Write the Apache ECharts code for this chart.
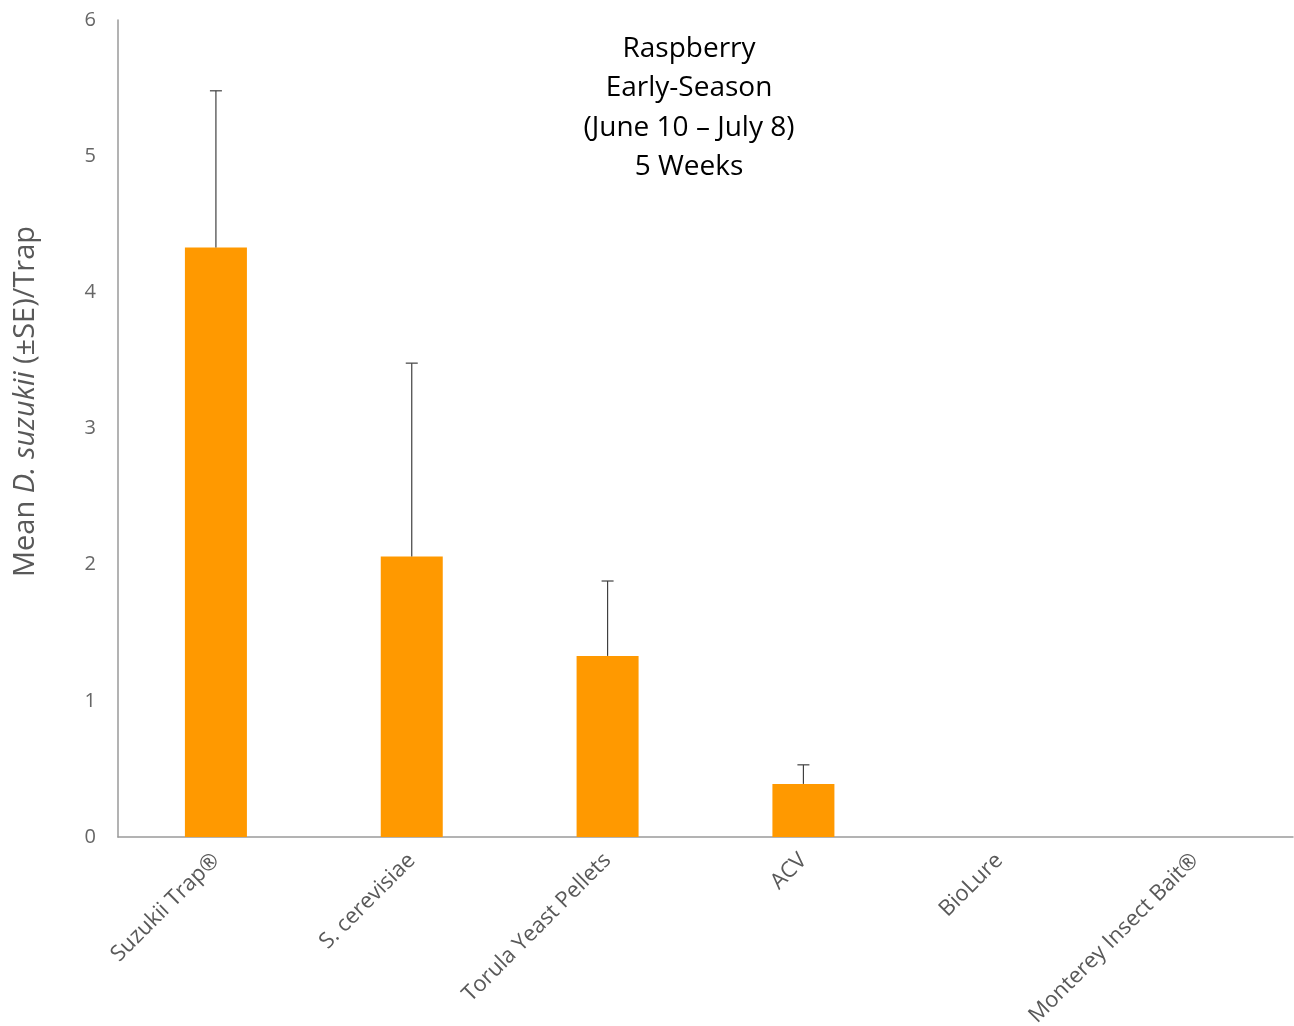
<!DOCTYPE html>
<html>
<head>
<meta charset="utf-8">
<style>
  html, body { margin: 0; padding: 0; background: #fff; }
  #chart { width: 1294px; height: 1026px; }
</style>
<script src="https://cdn.jsdelivr.net/npm/echarts@6/dist/echarts.min.js"></script>
</head>
<body>
<div id="chart"></div>
<script>
// Trap attractants compared in raspberry, early season
const categories = ['Suzukii Trap®', 'S. cerevisiae', 'Torula Yeast Pellets', 'ACV', 'BioLure', 'Monterey Insect Bait®'];
// Mean D. suzukii per trap
const means = [4.33, 2.06, 1.33, 0.39, 0, 0];
// Standard error (drawn upward only)
const stdErrors = [1.15, 1.42, 0.55, 0.14, 0, 0];
const yTicks = { min: 0, max: 6, interval: 1 };
const titleLines = ['Raspberry', 'Early-Season', '(June 10 \u2013 July 8)', '5 Weeks'];

const errorData = categories.map((c, i) => [i, means[i], means[i] + stdErrors[i]]);

const chart = echarts.init(document.getElementById('chart'));
chart.setOption({
  animation: false,
  backgroundColor: '#ffffff',
  textStyle: { fontFamily: '"Open Sans", "Noto Sans", sans-serif' },
  title: {
    text: titleLines.join('\n'),
    left: 684,
    top: 24,
    textAlign: 'center',
    textStyle: {
      fontFamily: '"Open Sans", "Noto Sans", sans-serif',
      fontWeight: 'normal',
      fontSize: 28,
      lineHeight: 39.5,
      color: '#000000'
    }
  },
  grid: { left: 118, right: 1, top: 20, bottom: 189, containLabel: false, outerBoundsMode: 'none' },
  xAxis: {
    type: 'category',
    data: categories,
    axisLine: { show: true, lineStyle: { color: '#9a9a9a', width: 1.5 } },
    axisTick: { show: false },
    axisLabel: {
      rotate: 45,
      margin: 20,
      fontSize: 22,
      color: '#595959',
      interval: 0
    }
  },
  yAxis: {
    type: 'value',
    min: yTicks.min,
    max: yTicks.max,
    interval: yTicks.interval,
    axisLine: { show: true, lineStyle: { color: '#9a9a9a', width: 1.5 } },
    axisTick: { show: false },
    splitLine: { show: false },
    axisLabel: { fontSize: 20, color: '#666666', margin: 22 },
    name: '{n|Mean }{i|D. suzukii}{n| (±SE)/Trap}',
    nameLocation: 'middle',
    nameRotate: 90,
    nameGap: 78,
    nameTextStyle: {
      padding: [0, 0, 0, 54],
      rich: {
        n: { fontSize: 29, color: '#595959', fontFamily: '"Open Sans", "Noto Sans", sans-serif' },
        i: { fontSize: 29, color: '#595959', fontStyle: 'italic', fontFamily: '"Open Sans", "Noto Sans", sans-serif' }
      }
    }
  },
  series: [
    {
      type: 'bar',
      data: means,
      barWidth: 62,
      itemStyle: { color: '#ff9900' },
      z: 2
    },
    {
      type: 'custom',
      data: errorData,
      z: 3,
      renderItem: function (params, api) {
        const x = api.value(0);
        const lo = api.coord([x, api.value(1)]);
        const hi = api.coord([x, api.value(2)]);
        if (Math.abs(lo[1] - hi[1]) < 0.5) return null;
        const cap = 6;
        const style = { stroke: '#404040', lineWidth: 1.2 };
        return {
          type: 'group',
          children: [
            { type: 'line', shape: { x1: lo[0], y1: lo[1], x2: hi[0], y2: hi[1] }, style: style },
            { type: 'line', shape: { x1: hi[0] - cap, y1: hi[1], x2: hi[0] + cap, y2: hi[1] }, style: style }
          ]
        };
      }
    }
  ]
});
</script>
</body>
</html>
